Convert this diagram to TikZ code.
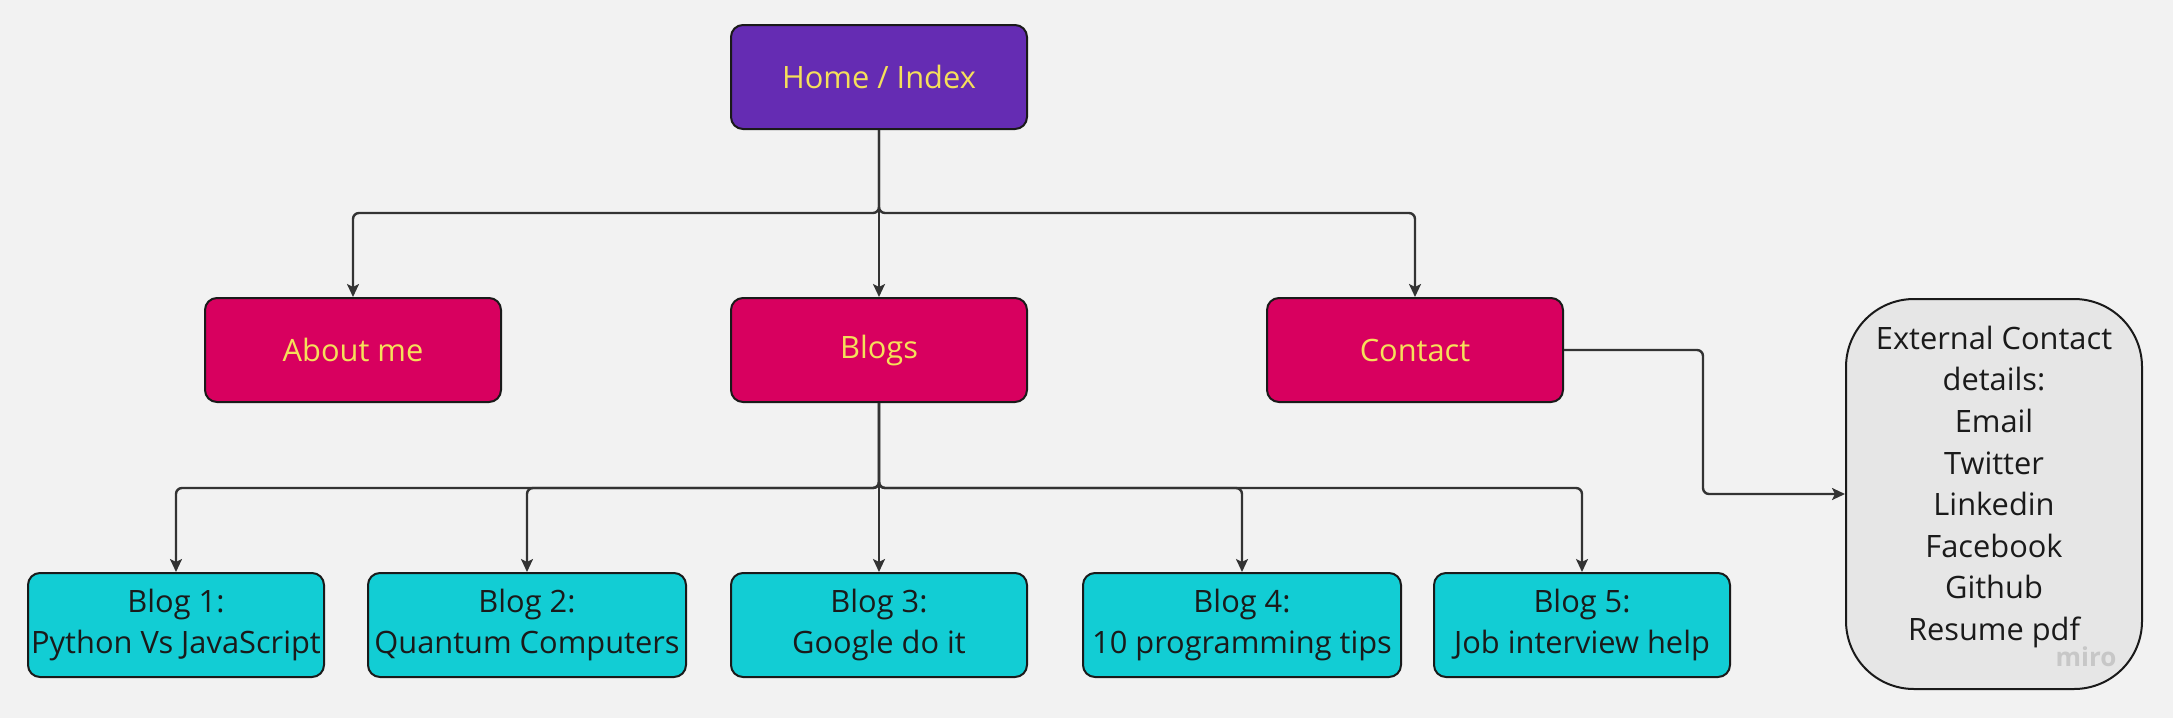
\documentclass[tikz,border=0pt]{standalone}
\usepackage{fontspec}
\setmainfont{Open Sans}
\usepackage{tikz}
\usetikzlibrary{arrows.meta}

\definecolor{paper}{HTML}{F2F2F2}
\definecolor{homefill}{HTML}{652CB3}
\definecolor{pagefill}{HTML}{D8005F}
\definecolor{blogfill}{HTML}{12CDD4}
\definecolor{extfill}{HTML}{E6E6E6}
\definecolor{labelyellow}{HTML}{F5E05A}
\definecolor{ink}{HTML}{1A1A1A}
\definecolor{wire}{HTML}{333333}

\tikzset{
  pagebox/.style={draw=ink, line width=1pt, rounded corners=6pt, align=center,
    minimum height=52pt, font=\fontsize{15.4}{20.8}\selectfont, inner sep=1pt},
  link/.style={draw=wire, line width=1.2pt, rounded corners=3pt,
    -{Stealth[length=6.5pt, width=6pt, inset=1.5pt]}}
}

\begin{document}
\begin{tikzpicture}[x=0.5pt, y=-0.5pt]
    % background
    \fill[paper] (0, 0) rectangle (2173, 718);

    % draw top level
    \node[pagebox, fill=homefill, text=labelyellow, minimum width=148pt] (home) at (879, 77) {Home / Index};

    % draw second level
    \node[pagebox, fill=pagefill, text=labelyellow, minimum width=148pt] (about) at (353, 350) {About me};
    \node[pagebox, fill=pagefill, text=labelyellow, minimum width=148pt] (blogs) at (879, 350) {Blogs};
    \node[pagebox, fill=pagefill, text=labelyellow, minimum width=148pt] (contact) at (1415, 350) {Contact};

    % draw blog posts
    \node[pagebox, fill=blogfill, text=ink, minimum width=148pt] (blogA) at (176, 625) {Blog 1:\\Python Vs JavaScript};
    \node[pagebox, fill=blogfill, text=ink, minimum width=159pt] (blogB) at (527, 625) {Blog 2:\\Quantum Computers};
    \node[pagebox, fill=blogfill, text=ink, minimum width=148pt] (blogC) at (879, 625) {Blog 3:\\Google do it};
    \node[pagebox, fill=blogfill, text=ink, minimum width=159pt] (blogD) at (1242, 625) {Blog 4:\\10 programming tips};
    \node[pagebox, fill=blogfill, text=ink, minimum width=148pt] (blogE) at (1582, 625) {Blog 5:\\Job interview help};

    % draw external contact box
    \node[pagebox, fill=extfill, text=ink, rounded corners=34pt, minimum width=148pt, minimum height=195pt]
      (extern) at (1994, 494) {External Contact\\details:\\Email\\Twitter\\Linkedin\\Facebook\\Github\\Resume pdf\\[-10pt]};
    \node[text=black!22, font=\fontsize{13}{13}\bfseries\selectfont] (logo) at (2086, 657) {miro};

    % bus lines
    \coordinate (busA) at (0, 213);
    \coordinate (busB) at (0, 488);
    \coordinate (turn) at (1703, 0);

    % draw links from home
    \draw[link] (home.south) -- (home.south |- busA) -| (about.north);
    \draw[link] (home.south) -- (blogs.north);
    \draw[link] (home.south) -- (home.south |- busA) -| (contact.north);

    % draw links from blogs
    \draw[link] (blogs.south) -- (blogs.south |- busB) -| (blogA.north);
    \draw[link] (blogs.south) -- (blogs.south |- busB) -| (blogB.north);
    \draw[link] (blogs.south) -- (blogC.north);
    \draw[link] (blogs.south) -- (blogs.south |- busB) -| (blogD.north);
    \draw[link] (blogs.south) -- (blogs.south |- busB) -| (blogE.north);

    % draw link to external contact
    \draw[link] (contact.east) -- (contact.east -| turn) |- (extern.west);

\end{tikzpicture}
\end{document}
